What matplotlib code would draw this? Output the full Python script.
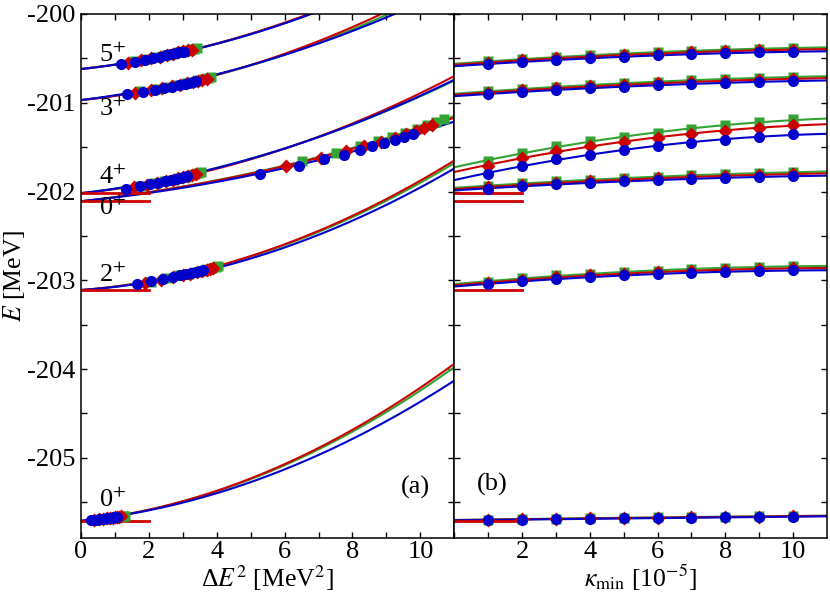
import numpy as np
import matplotlib
matplotlib.use("Agg")
import matplotlib.pyplot as plt

plt.rcParams['font.family'] = ['Liberation Serif', 'DejaVu Serif']
plt.rcParams['mathtext.fontset'] = 'stix'
plt.rcParams['axes.unicode_minus'] = False

# kappa_min values [1e-5]
kappa = [1, 2, 3, 4, 5, 6, 7, 8, 9, 10]

# energies E [MeV] per state, order: green, red, blue
E_5p = [[-200.535, -200.507, -200.486, -200.465, -200.446, -200.429, -200.414, -200.403, -200.391, -200.382],
        [-200.548, -200.521, -200.501, -200.481, -200.462, -200.446, -200.431, -200.421, -200.409, -200.401],
        [-200.564, -200.538, -200.519, -200.500, -200.482, -200.466, -200.452, -200.443, -200.432, -200.425]]
E_3p = [[-200.873, -200.844, -200.820, -200.799, -200.780, -200.763, -200.747, -200.733, -200.720, -200.708],
        [-200.887, -200.859, -200.836, -200.816, -200.798, -200.782, -200.767, -200.754, -200.741, -200.728],
        [-200.903, -200.876, -200.854, -200.835, -200.818, -200.803, -200.789, -200.777, -200.765, -200.754]]
E_0p2 = [[-201.658, -201.564, -201.489, -201.429, -201.384, -201.339, -201.296, -201.255, -201.222, -201.188],
         [-201.711, -201.617, -201.545, -201.486, -201.440, -201.395, -201.353, -201.316, -201.280, -201.252],
         [-201.797, -201.711, -201.639, -201.583, -201.527, -201.489, -201.448, -201.414, -201.384, -201.357]]
E_4p = [[-201.936, -201.908, -201.885, -201.867, -201.850, -201.834, -201.818, -201.804, -201.792, -201.782],
        [-201.951, -201.924, -201.901, -201.884, -201.868, -201.852, -201.837, -201.824, -201.812, -201.802],
        [-201.966, -201.940, -201.918, -201.902, -201.887, -201.872, -201.858, -201.846, -201.835, -201.827]]
E_2p = [[-203.015, -202.977, -202.946, -202.926, -202.906, -202.891, -202.875, -202.861, -202.849, -202.840],
        [-203.030, -202.993, -202.963, -202.944, -202.925, -202.911, -202.896, -202.883, -202.871, -202.862],
        [-203.045, -203.010, -202.981, -202.963, -202.945, -202.932, -202.918, -202.906, -202.895, -202.887]]
E_0p1 = [[-205.695, -205.690, -205.685, -205.680, -205.676, -205.671, -205.667, -205.663, -205.659, -205.655],
         [-205.697, -205.692, -205.687, -205.683, -205.678, -205.674, -205.670, -205.666, -205.662, -205.658],
         [-205.700, -205.696, -205.691, -205.687, -205.683, -205.679, -205.675, -205.671, -205.667, -205.663]]

# energy variance Delta E^2 [MeV^2] per state, order: green, red, blue
dE2_5p = [[1.55, 1.95, 2.25, 2.50, 2.70, 2.90, 3.05, 3.20, 3.32, 3.43],
          [1.38, 1.78, 2.07, 2.32, 2.52, 2.70, 2.86, 3.00, 3.15, 3.28],
          [1.18, 1.59, 1.88, 2.13, 2.33, 2.50, 2.65, 2.80, 2.92, 3.03]]
dE2_3p = [[1.75, 2.22, 2.58, 2.87, 3.10, 3.30, 3.47, 3.62, 3.74, 3.84],
          [1.58, 2.05, 2.40, 2.68, 2.92, 3.13, 3.30, 3.45, 3.58, 3.70],
          [1.37, 1.83, 2.18, 2.45, 2.68, 2.88, 3.05, 3.18, 3.30, 3.40]]
dE2_0p2 = [[6.52, 7.52, 8.21, 8.74, 9.17, 9.56, 9.90, 10.20, 10.45, 10.71],
           [6.03, 7.07, 7.81, 8.35, 8.84, 9.24, 9.58, 9.88, 10.12, 10.34],
           [5.26, 6.41, 7.15, 7.74, 8.21, 8.58, 8.94, 9.26, 9.53, 9.78]]
dE2_4p = [[1.75, 2.15, 2.45, 2.70, 2.90, 3.08, 3.23, 3.36, 3.46, 3.55],
          [1.56, 1.95, 2.25, 2.50, 2.70, 2.87, 3.02, 3.15, 3.27, 3.38],
          [1.34, 1.74, 2.03, 2.28, 2.48, 2.65, 2.80, 2.93, 3.03, 3.11]]
dE2_2p = [[2.05, 2.50, 2.88, 3.17, 3.40, 3.60, 3.75, 3.87, 3.97, 4.04],
          [1.90, 2.35, 2.70, 3.00, 3.22, 3.42, 3.58, 3.70, 3.80, 3.89],
          [1.64, 2.05, 2.42, 2.70, 2.93, 3.10, 3.25, 3.38, 3.50, 3.60]]
dE2_0p1 = [[0.45, 0.60, 0.73, 0.84, 0.94, 1.02, 1.10, 1.17, 1.23, 1.29],
           [0.38, 0.53, 0.66, 0.77, 0.86, 0.94, 1.01, 1.07, 1.13, 1.18],
           [0.30, 0.45, 0.57, 0.67, 0.76, 0.84, 0.91, 0.97, 1.02, 1.07]]

# extrapolation curves in (a): E = E0 + a*dE2 + b*dE2^2 ; (a, b) for green, red, blue
E0_5p, fit_5p = -200.62, [(0.0418, 0.0074), (0.0420, 0.0075), (0.0416, 0.00735)]
E0_3p, fit_3p = -200.97, [(0.0420, 0.0072), (0.0394, 0.00793), (0.0477, 0.0062)]
E0_0p2, fit_0p2 = -202.11, [(0.0432, 0.0040), (0.0427, 0.0039), (0.0391, 0.00387)]
E0_4p, fit_4p = -202.02, [(0.0467, 0.00625), (0.0403, 0.00725), (0.0454, 0.00645)]
E0_2p, fit_2p = -203.11, [(0.0299, 0.0091), (0.0298, 0.00935), (0.0264, 0.00892)]
E0_0p1, fit_0p1 = -205.71, [(0.0408, 0.0106), (0.0410, 0.0109), (0.0402, 0.0094)]

# reference energies (red bars)
E_ref = [-202.022, -202.11, -203.112, -205.715]

state_labels = ["5$^{+}$", "3$^{+}$", "0$^{+}$", "4$^{+}$", "2$^{+}$", "0$^{+}$"]
label_E = [-200.46, -201.07, -202.19, -201.84, -202.94, -205.48]

states = [(E_5p, dE2_5p, E0_5p, fit_5p), (E_3p, dE2_3p, E0_3p, fit_3p),
          (E_0p2, dE2_0p2, E0_0p2, fit_0p2), (E_4p, dE2_4p, E0_4p, fit_4p),
          (E_2p, dE2_2p, E0_2p, fit_2p), (E_0p1, dE2_0p1, E0_0p1, fit_0p1)]

colors = ['#33a333', '#cc0000', '#0000cc']
markers = ['s', 'D', 'o']
msizes = [6.5, 7.0, 8.0]
fs = 19
fs_lab = 18.5

W, H = 830, 598
fig = plt.figure(figsize=(W/100, H/100), dpi=100)
x0, xm, x1 = 81, 454.3, 827
yt, yb = 14, 537.7
axa = fig.add_axes([x0/W, 1-yb/H, (xm-x0)/W, (yb-yt)/H])
axb = fig.add_axes([xm/W, 1-yb/H, (x1-xm)/W, (yb-yt)/H])

xx = np.linspace(0, 11, 300)
for E, dE2, E0, fit in states:
    for c, (a, b) in enumerate(fit):
        axa.plot(xx, E0 + a*xx + b*xx**2, color=colors[c], lw=1.5, zorder=2)
    for c in range(3):
        axa.plot(dE2[c], E[c], ls='none', marker=markers[c], ms=msizes[c],
                 color=colors[c], mec='none', zorder=3)

    # panel (b): quadratic fits in kappa
    for c in range(3):
        p = np.polyfit(kappa, E[c], 2)
        axb.plot(xx, np.polyval(p, xx), color=colors[c], lw=1.5, zorder=2)
    for c in range(3):
        axb.plot(kappa, E[c], ls='none', marker=markers[c], ms=msizes[c],
                 color=colors[c], mec='none', zorder=3)

for e in E_ref:
    axa.plot([0, 2], [e, e], color='#cc0000', lw=2, zorder=2)
    axb.plot([0, 2], [e, e], color='#cc0000', lw=2, zorder=2)

for lab, e in zip(state_labels, label_E):
    axa.text(0.93, e, lab, fontsize=fs, ha='center', va='center')

axa.text(9.85, -205.33, "(a)", fontsize=fs, ha='center', va='center')
axb.text(1.12, -205.30, "(b)", fontsize=fs, ha='center', va='center')

for ax in (axa, axb):
    ax.set_xlim(0, 11)
    ax.set_ylim(-205.9, -200)
    ax.set_xticks([0, 2, 4, 6, 8, 10])
    ax.set_xticks([1, 3, 5, 7, 9], minor=True)
    ax.set_yticks([-205, -204, -203, -202, -201, -200])
    ax.set_yticks(np.arange(-205.5, -200, 1.0), minor=True)
    ax.tick_params(which='both', direction='in', top=True, right=True,
                   labelsize=fs, width=1)
    ax.tick_params(which='major', length=4.5, pad=4)
    ax.tick_params(axis='x', which='major', pad=2.5)
    ax.tick_params(which='minor', length=4)
    for s in ax.spines.values():
        s.set_linewidth(1.1)

axa.set_xticklabels(["0", "2", "4", "6", "8", "10"])
axa.set_yticklabels(["-205", "-204", "-203", "-202", "-201", "-200"])
axb.set_xticklabels(["", "2", "4", "6", "8", "10"])
axb.set_yticklabels([])

axa.set_xlabel(r"Δ$E^2$ [MeV$^2$]", fontsize=fs_lab, labelpad=0)
axa.set_ylabel(r"$E$ [MeV]", fontsize=fs_lab, labelpad=0)
axb.set_xlabel(r"$\kappa_{\rm min}$ [10$^{-5}$]", fontsize=fs_lab, labelpad=0)

fig.savefig("out.png", dpi=100)
